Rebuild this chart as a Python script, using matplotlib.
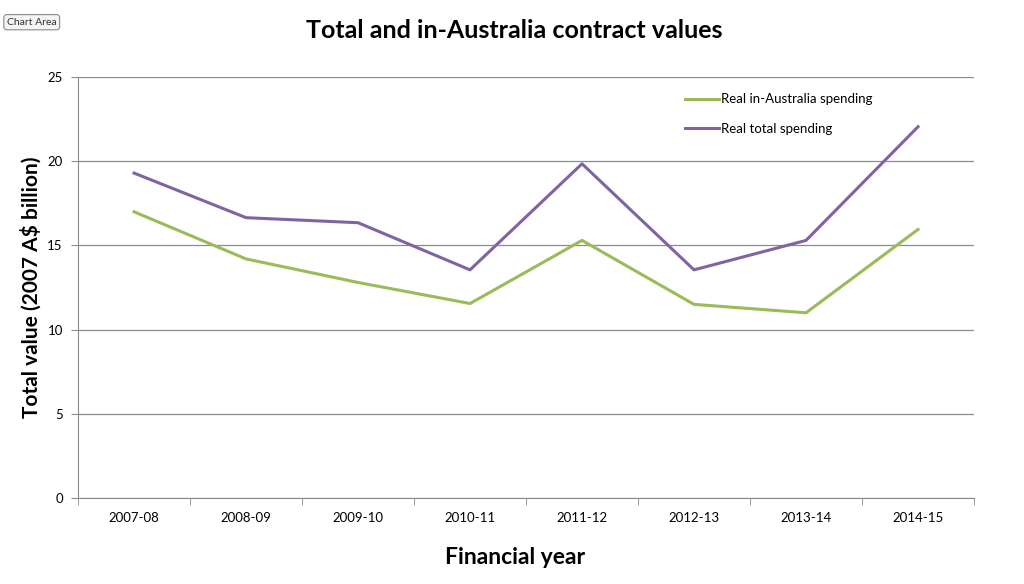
import numpy as np
import matplotlib.pyplot as plt

plt.rcParams['font.family'] = ['Lato', 'DejaVu Sans']

years = ['2007-08', '2008-09', '2009-10', '2010-11',
         '2011-12', '2012-13', '2013-14', '2014-15']
in_australia = [17.0, 14.2, 12.8, 11.55, 15.3, 11.5, 11.0, 15.95]
total = [19.3, 16.65, 16.35, 13.55, 19.85, 13.55, 15.3, 22.05]

green = '#9bbb59'
purple = '#8064a2'
grey = '#8c8c8c'

fig = plt.figure(figsize=(10.24, 5.84), dpi=100)
ax = fig.add_axes([0.0762, 0.1473, 0.875, 0.7207])

x = np.arange(len(years))
ax.plot(x, in_australia, color=green, lw=2.2, label='Real in-Australia spending')
ax.plot(x, total, color=purple, lw=2.2, label='Real total spending')

ax.set_xlim(-0.5, len(years) - 0.5)
ax.set_ylim(0, 25)
ax.set_yticks(np.arange(0, 26, 5))
ax.set_xticks(x)
ax.set_xticklabels(years, fontsize=9.5)
ax.set_xticks(np.arange(-0.5, len(years), 1), minor=True)
ax.tick_params(axis='x', which='major', length=0, pad=10)
ax.tick_params(axis='x', which='minor', length=5, color=grey, direction='out')
ax.tick_params(axis='y', length=5, color=grey, labelsize=9.5, pad=6)

ax.grid(axis='y', color=grey, lw=0.9)
ax.set_axisbelow(True)
for side in ['top', 'right']:
    ax.spines[side].set_visible(False)
for side in ['left', 'bottom']:
    ax.spines[side].set_color(grey)

ax.set_xlabel('Financial year', fontsize=16.5, fontweight='bold')
ax.xaxis.set_label_coords(0.488, -0.117)
ax.set_ylabel('Total value (2007 A$ billion)', fontsize=15, fontweight='bold', labelpad=4)

leg = ax.legend(loc='upper left', bbox_to_anchor=(0.664, 0.99), frameon=False,
                fontsize=9.5, handlelength=2.6, handletextpad=0.15, labelspacing=1.35)

fig.text(0.502, 0.948, 'Total and in-Australia contract values', ha='center',
         va='center', fontsize=18, fontweight='bold')

fig.text(0.031, 0.962, 'Chart Area', ha='center', va='center', fontsize=7.5,
         color='#333333',
         bbox=dict(boxstyle='round,pad=0.3', fc='#f4f4f4', ec='#8a8a8a', lw=0.8))

fig.savefig('out.png', dpi=100)
